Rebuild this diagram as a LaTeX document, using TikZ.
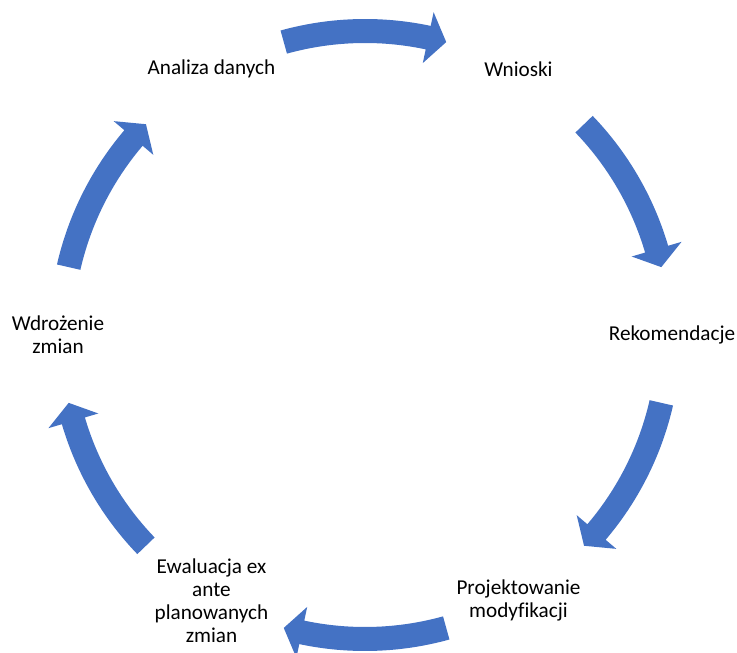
\documentclass[tikz,border=0pt]{standalone}
\usepackage{fontspec}
\setmainfont[Ligatures=NoCommon]{Carlito}
\usetikzlibrary{calc}
\definecolor{cycleblue}{HTML}{4472C4}
\tikzset{
  % cykl
  cl/.style={font=\fontsize{21.2}{23}\selectfont,align=center,inner sep=0pt,text=black},
  ca/.style={fill=cycleblue,draw=none},
}
% łukowa strzałka wokół kąta #1 (zgodnie z ruchem wskazówek)
\newcommand{\cyklarrow}[1]{%
  \fill[ca] ({#1+15.5}:316pt) arc[start angle={#1+15.5},end angle={#1-12},radius=316pt]
    -- ({#1-12}:330pt) -- ({#1-15.5}:304pt) -- ({#1-12}:278pt) -- ({#1-12}:292pt)
    arc[start angle={#1-12},end angle={#1+15.5},radius=292pt] -- cycle;}

\begin{document}
\begin{tikzpicture}
\useasboundingbox (-365pt,-318pt) rectangle (372pt,335pt);
  \node[cl] (analiza) at (120:307pt) {Analiza danych};
  \node[cl] (wnioski) at (60:307pt) {Wnioski};
  \node[cl] (rekom) at (0:307pt) {Rekomendacje};
  \node[cl] (projekt) at (-60:307pt) {Projektowanie\\modyfikacji};
  \node[cl] (ewal) at (-120:307pt) {Ewaluacja ex\\ante\\planowanych\\zmian};
  \node[cl] (wdroz) at (180:307pt) {Wdrożenie\\zmian};
  \foreach \a in {90,28.4,-28.4,-90,-151.6,151.6}
    {\cyklarrow{\a}}
\end{tikzpicture}
\end{document}
